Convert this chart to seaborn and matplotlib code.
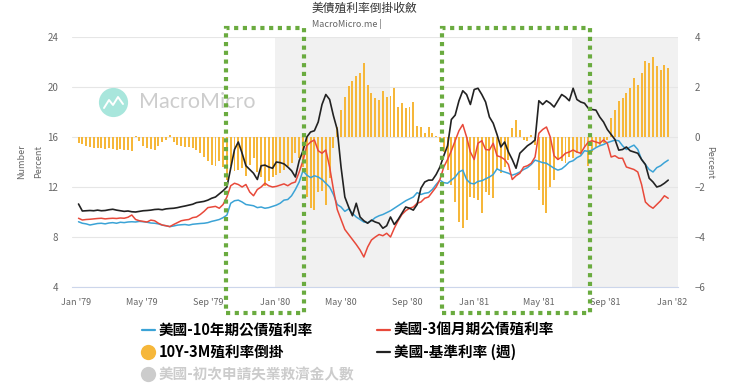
import matplotlib
matplotlib.use('Agg')
import matplotlib.pyplot as plt
import matplotlib.dates as mdates
import matplotlib.transforms as mtransforms
from matplotlib.lines import Line2D
from matplotlib.patches import Rectangle
import numpy as np
import pandas as pd
import seaborn as sns

# -- Data (weekly) ------------------------------------------------------------
weeks = pd.date_range('1979-01-05', periods=156, freq='7D')

ten_year = [
    9.22, 9.10, 9.05, 8.96, 9.02, 9.08, 9.10, 9.05, 9.12, 9.15,
    9.10, 9.18, 9.15, 9.20, 9.22, 9.20, 9.25, 9.22, 9.18, 9.12,
    9.10, 9.05, 8.95, 8.90, 8.83, 8.88, 8.95, 8.98, 9.00, 8.95,
    9.02, 9.05, 9.08, 9.10, 9.15, 9.25, 9.32, 9.40, 9.55, 9.75,
    10.70, 10.90, 10.95, 10.80, 10.60, 10.55, 10.50, 10.35, 10.40, 10.30,
    10.35, 10.45, 10.55, 10.70, 10.95, 11.00, 11.30, 11.80, 12.40, 13.30,
    12.95, 12.75, 12.90, 12.80, 12.60, 12.30, 12.00, 11.40, 10.60, 10.40,
    10.05, 10.25, 9.90, 9.60, 9.40, 9.20, 9.15, 9.30, 9.55, 9.70,
    9.80, 9.95, 10.10, 10.30, 10.50, 10.70, 10.90, 11.05, 11.20, 11.55,
    11.40, 11.50, 11.55, 11.80, 12.20, 12.55, 12.35, 12.30, 12.55, 12.80,
    13.20, 13.35, 12.60, 12.30, 12.25, 12.45, 12.50, 12.65, 12.80, 13.00,
    13.45, 13.30, 13.20, 13.10, 12.95, 13.05, 13.20, 13.40, 13.55, 13.80,
    14.15, 14.05, 13.95, 13.90, 13.70, 13.50, 13.35, 13.45, 13.70, 14.00,
    14.10, 14.35, 14.50, 14.90, 14.85, 14.95, 15.15, 15.30, 15.40, 15.55,
    15.65, 15.75, 15.70, 15.30, 15.00, 15.20, 15.35, 15.00, 14.20, 13.80,
    13.40, 13.20, 13.55, 13.70, 13.95, 14.15,
]

three_month = [
    9.50, 9.36, 9.40, 9.42, 9.45, 9.48, 9.50, 9.45, 9.48, 9.50,
    9.48, 9.52, 9.50, 9.58, 9.76, 9.40, 9.30, 9.25, 9.20, 9.35,
    9.30, 9.10, 8.96, 8.90, 8.83, 9.00, 9.15, 9.30, 9.36, 9.40,
    9.55, 9.60, 9.80, 10.05, 10.35, 10.40, 10.45, 10.30, 10.60, 11.20,
    12.10, 12.30, 12.20, 12.00, 12.20, 11.60, 11.30, 11.80, 12.00, 12.30,
    12.10, 12.00, 12.05, 12.15, 12.25, 12.10, 12.30, 12.40, 13.20, 14.10,
    15.30, 15.60, 15.76, 14.90, 14.70, 14.96, 13.60, 11.80, 10.20, 9.40,
    8.60, 8.20, 7.80, 7.40, 6.96, 6.40, 7.20, 7.76, 8.00, 8.20,
    8.10, 8.30, 8.00, 8.70, 9.30, 9.80, 10.10, 10.30, 10.40, 10.70,
    10.80, 11.10, 11.20, 11.60, 12.00, 12.60, 13.60, 14.20, 14.90, 15.70,
    16.50, 17.00, 16.00, 14.80, 14.20, 15.50, 15.70, 15.00, 14.96, 15.50,
    14.50, 14.40, 14.20, 13.80, 12.60, 12.90, 13.10, 13.60, 13.70, 13.90,
    14.40, 16.30, 16.60, 16.80, 16.00, 14.50, 14.20, 14.40, 14.70, 14.80,
    14.96, 14.80, 14.70, 15.20, 15.60, 15.70, 15.60, 15.50, 15.76, 15.50,
    14.40, 14.50, 14.30, 14.30, 13.60, 13.50, 13.40, 13.20, 12.20, 10.80,
    10.50, 10.30, 10.60, 10.90, 11.30, 11.10,
]

fed_funds = [
    10.64, 10.08, 10.10, 10.12, 10.10, 10.15, 10.10, 10.12, 10.18, 10.22,
    10.15, 10.10, 10.05, 10.08, 10.02, 10.00, 10.05, 10.10, 10.12, 10.15,
    10.20, 10.22, 10.18, 10.25, 10.28, 10.30, 10.35, 10.42, 10.48, 10.55,
    10.62, 10.75, 10.80, 10.85, 10.95, 11.10, 11.20, 11.45, 11.70, 12.00,
    13.50, 15.00, 15.60, 14.70, 13.70, 13.40, 13.10, 12.60, 13.70, 13.75,
    13.60, 13.50, 14.00, 13.95, 13.85, 13.60, 13.30, 12.80, 14.10, 14.90,
    16.00, 16.40, 16.50, 17.20, 18.60, 19.40, 19.00, 17.70, 16.60, 13.60,
    11.20, 10.40, 9.70, 10.70, 9.60, 9.30, 9.10, 9.35, 9.20, 9.10,
    8.70, 8.90, 9.60, 9.00, 9.40, 9.90, 10.40, 10.30, 10.15, 10.60,
    11.90, 12.40, 12.55, 12.55, 13.00, 13.60, 14.50, 15.30, 17.40, 17.75,
    18.90, 19.70, 19.40, 18.60, 19.80, 19.90, 19.40, 18.80, 17.60, 17.10,
    16.20, 15.20, 15.60, 14.80, 14.20, 13.50, 14.70, 15.00, 15.30, 15.50,
    15.76, 18.90, 18.60, 18.90, 18.70, 18.40, 18.90, 19.40, 19.20, 18.90,
    19.90, 19.00, 18.80, 18.70, 18.30, 18.20, 18.15, 17.60, 17.20, 16.60,
    16.20, 15.80, 14.95, 15.00, 15.20, 14.90, 14.80, 14.70, 14.20, 13.80,
    12.70, 12.40, 12.00, 12.10, 12.30, 12.55,
]

spread = [
    -0.25, -0.28, -0.35, -0.40, -0.42, -0.45, -0.45, -0.48, -0.45, -0.47,
    -0.50, -0.48, -0.52, -0.50, -0.55, 0.05, -0.15, -0.35, -0.42, -0.48,
    -0.50, -0.35, -0.20, -0.10, 0.08, -0.20, -0.30, -0.35, -0.38, -0.40,
    -0.45, -0.50, -0.65, -0.80, -0.95, -1.10, -1.15, -0.95, -1.20, -1.70,
    -1.15, -1.35, -1.30, -1.25, -1.55, -1.10, -0.85, -1.40, -1.60, -1.95,
    -1.75, -1.60, -1.50, -1.45, -1.30, -1.15, -1.05, -0.65, -0.85, -1.20,
    -2.40, -2.85, -2.90, -2.20, -2.15, -2.70, -1.65, -0.45, 0.40, 1.10,
    1.60, 2.05, 2.25, 2.45, 2.55, 2.95, 2.10, 1.75, 1.55, 1.50,
    1.85, 1.60, 1.65, 1.95, 1.20, 1.35, 1.15, 1.20, 1.40, 0.45,
    0.40, 0.15, 0.40, 0.15, 0.05, -0.20, -0.60, -1.30, -1.90, -2.60,
    -3.40, -3.65, -3.30, -2.40, -2.45, -2.50, -3.05, -2.20, -2.30, -2.45,
    -1.30, -1.45, -1.20, -0.90, 0.35, 0.70, 0.30, -0.10, -0.15, 0.10,
    -0.30, -2.10, -2.70, -3.05, -2.00, -1.70, -0.90, -0.95, -1.05, -0.80,
    -0.85, -0.65, -0.70, -0.45, -1.15, -0.60, -0.40, -0.30, -0.25, -0.10,
    0.75, 1.10, 1.45, 1.55, 1.75, 1.95, 2.35, 2.10, 2.55, 3.05,
    2.95, 3.20, 2.85, 2.70, 2.90, 2.75,
]

tick_dates = ['1979-01-01', '1979-05-01', '1979-09-01', '1980-01-01', '1980-05-01',
              '1980-09-01', '1981-01-01', '1981-05-01', '1981-09-01', '1982-01-01']
tick_labels = ["Jan '79", "May '79", "Sep '79", "Jan '80", "May '80",
               "Sep '80", "Jan '81", "May '81", "Sep '81", "Jan '82"]
left_ticks = [4, 8, 12, 16, 20, 24]
right_ticks = [-6, -4, -2, 0, 2, 4]
recessions = [('1980-01-01', '1980-07-31'), ('1981-07-01', '1982-03-01')]
highlights = [('1979-10-03', '1980-02-24'), ('1980-11-04', '1981-08-03')]

names = ['美國-10年期公債殖利率', '美國-3個月期公債殖利率', '10Y-3M殖利率倒掛',
         '美國-基準利率 (週)', '美國-初次申請失業救濟金人數']

assert len(ten_year) == len(three_month) == len(fed_funds) == len(spread) == len(weeks)

BLUE = '#3ba3d6'
RED = '#e8493a'
ORANGE = '#f6b73a'
BLACK = '#222222'
GREEN = '#6aab3f'
W, H = 740, 389


def px(x, y):
    return x / W, 1 - y / H


sns.set_style('white')
plt.rcParams['font.family'] = ['Noto Sans CJK TC', 'DejaVu Sans']

xnum = mdates.date2num(weeks)

fig = plt.figure(figsize=(W / 100, H / 100), dpi=100)
ax = fig.add_axes([72 / W, 102 / H, 606 / W, 250 / H])
ax2 = ax.twinx()
ax.set_zorder(2)
ax.patch.set_visible(False)
ax2.set_zorder(1)

# recession shading + grid on the back axis
for start, end in recessions:
    ax2.axvspan(mdates.datestr2num(start), mdates.datestr2num(end),
                color='#f1f1f1', lw=0, zorder=0)
ax2.set_axisbelow(True)
ax2.yaxis.grid(True, color='#e6e6e6', lw=0.8)

# spread bars (right axis)
ax2.bar(xnum, spread, width=3.6, color=ORANGE, lw=0, zorder=2)

# lines (left axis)
sns.lineplot(x=xnum, y=ten_year, ax=ax, color=BLUE, lw=1.1, estimator=None, legend=False)
sns.lineplot(x=xnum, y=three_month, ax=ax, color=RED, lw=1.1, estimator=None, legend=False)
sns.lineplot(x=xnum, y=fed_funds, ax=ax, color=BLACK, lw=1.2, estimator=None, legend=False)

ax.set_xlim(mdates.datestr2num('1978-12-24'), mdates.datestr2num('1982-01-12'))
ax.set_ylim(4, 24)
ax2.set_ylim(-6, 4)
ax.set_yticks(left_ticks)
ax2.set_yticks(right_ticks)
ax.set_xticks(mdates.datestr2num(tick_dates))
ax.set_xticklabels(tick_labels)

for a in (ax, ax2):
    for s in a.spines.values():
        s.set_visible(False)
ax.spines['bottom'].set_visible(True)
ax.spines['bottom'].set_color('#ccd6eb')
ax.spines['bottom'].set_linewidth(0.8)

ax.tick_params(axis='x', length=5, width=0.8, color='#ccd6eb', labelsize=6.5,
               labelcolor='#666666', pad=3)
ax.tick_params(axis='y', length=0, labelsize=7, labelcolor='#666666', pad=10)
ax2.tick_params(axis='y', length=0, labelsize=7, labelcolor='#666666', pad=12)
ax.set_xlabel('')
ax.set_ylabel('')

# axis titles
fig.text(*px(22, 162), 'Number', rotation=90, ha='center', va='center', fontsize=6.5, color='#666666')
fig.text(*px(39, 162), 'Percent', rotation=90, ha='center', va='center', fontsize=6.5, color='#666666')
fig.text(*px(710, 162), 'Percent', rotation=270, ha='center', va='center', fontsize=6.5, color='#666666')

# title / subtitle
fig.text(*px(312, 8), '美債殖利率倒掛收斂', ha='left', va='center', fontsize=8.5, color='#333333')
fig.text(*px(312, 24), 'MacroMicro.me |', ha='left', va='center', fontsize=6.5, color='#666666')

# watermark
fig.add_artist(Line2D([px(113, 102)[0]], [px(113, 102)[1]], marker='o', markersize=21,
                      color='#a8e6dc', mec='none'))
wx, wy = zip(*[px(104, 108), px(109, 100), px(113, 105), px(118, 97), px(123, 104)])
fig.add_artist(Line2D(wx, wy, color='white', lw=1.4))
fig.text(*px(139, 102), 'MacroMicro', ha='left', va='center', fontsize=15.5,
         color='#cdcdcd', family='Lato')

# green dotted highlight boxes
trans = mtransforms.blended_transform_factory(ax.transData, fig.transFigure)
for start, end in highlights:
    x0 = mdates.datestr2num(start)
    x1 = mdates.datestr2num(end)
    rect = Rectangle((x0, 1 - 313 / H), x1 - x0, 285 / H, transform=trans,
                     fill=False, edgecolor=GREEN, lw=3, linestyle=(0, (1, 1.1)),
                     clip_on=False, zorder=10)
    fig.add_artist(rect)

# legend (hand placed, two columns)
fs = 10.5
rows = [330, 352, 374]
leg = [
    (142, rows[0], 'line', BLUE, names[0], 'black'),
    (377, rows[0], 'line', RED, names[1], 'black'),
    (142, rows[1], 'dot', ORANGE, names[2], 'black'),
    (377, rows[1], 'line', BLACK, names[3], 'black'),
    (142, rows[2], 'dot', '#cccccc', names[4], '#cccccc'),
]
for lx, ly, kind, col, label, tcol in leg:
    if kind == 'line':
        xs, ys = zip(px(lx, ly), px(lx + 13, ly))
        fig.add_artist(Line2D(xs, ys, color=col, lw=1.6))
    else:
        cx, cy = px(lx + 6, ly)
        fig.add_artist(Line2D([cx], [cy], marker='o', markersize=11, color=col, mec='none'))
    fig.text(*px(lx + 17, ly), label, ha='left', va='center', fontsize=fs,
             fontweight='bold', color=tcol)

fig.savefig('out.png', dpi=100)
plt.close(fig)
